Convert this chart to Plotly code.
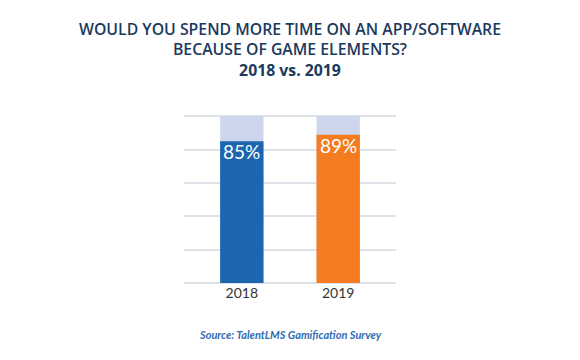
import plotly.graph_objects as go

years = ["2018", "2019"]
values = [85, 89]
totals = [100, 100]
bar_colors = ["#1c66b0", "#f47b20"]
labels = ["85%", "89%"]

fig = go.Figure()
fig.add_trace(go.Bar(x=years, y=totals, marker=dict(color="#cdd6ec", line=dict(width=0)),
                     width=0.45, hoverinfo="skip", showlegend=False))
fig.add_trace(go.Bar(x=years, y=values, marker=dict(color=bar_colors, line=dict(width=0)),
                     width=0.45, showlegend=False))

annotations = [dict(text=lab, x=i, y=v, xref="x", yref="y", yanchor="top", xanchor="center",
                    yshift=3, showarrow=False,
                    font=dict(color="white", size=19, family="Lato"))
               for i, (v, lab) in enumerate(zip(values, labels))]
annotations.append(dict(text="<b><i>Source: TalentLMS Gamification Survey</i></b>",
                        xref="paper", yref="paper", x=0.5, y=-0.30, xanchor="center",
                        yanchor="middle", showarrow=False,
                        font=dict(family="Lato", size=11, color="#2f6db5")))

fig.update_layout(
    barmode="overlay",
    width=580, height=360,
    margin=dict(l=184, r=184, t=113, b=77),
    paper_bgcolor="white", plot_bgcolor="white",
    title=dict(text="WOULD YOU SPEND MORE TIME ON AN APP/SOFTWARE<br>BECAUSE OF GAME ELEMENTS?<br><b>2018 vs. 2019</b>",
               x=0.5, xanchor="center", y=0.903, yanchor="top",
               font=dict(family="Open Sans", size=15.8, color="#1b3a5e", weight=600)),
    xaxis=dict(type="category", range=[-0.6, 1.6], showgrid=False, showline=False, ticks="",
               tickfont=dict(family="Lato", size=14, color="#333333")),
    yaxis=dict(range=[0, 102], tickvals=[0, 20, 40, 60, 80, 100], showticklabels=False,
               gridcolor="#dde1e8", gridwidth=1.5, zeroline=True, zerolinecolor="#dde1e8",
               zerolinewidth=1.5),
    annotations=annotations,
)
fig.write_html("out.html", config={"displayModeBar": False},
               post_script="document.body.style.margin='0';")
